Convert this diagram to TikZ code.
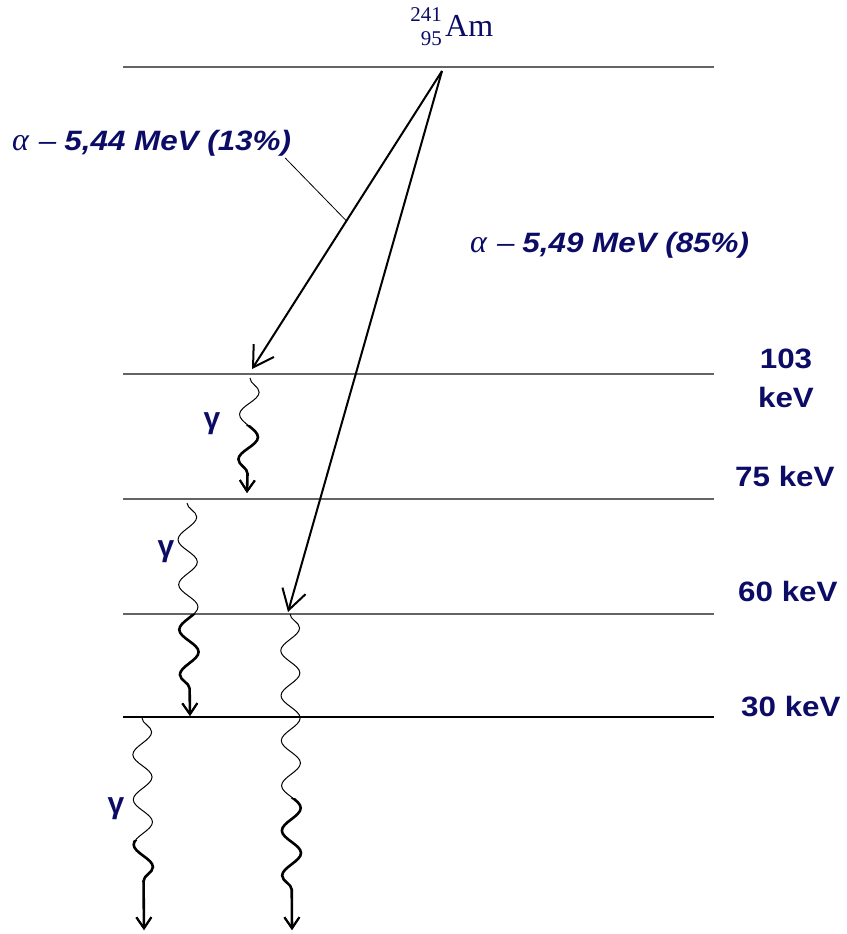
\documentclass[tikz,border=0pt]{standalone}
\usepackage{fontspec}
\setmainfont{Liberation Serif}
\newfontfamily\labfont[FakeStretch=1.12]{Liberation Sans}
\newfontfamily\gamfont{Liberation Sans}
\usetikzlibrary{arrows.meta,decorations.pathmorphing,calc}
\definecolor{navy}{RGB}{12,12,102}
\definecolor{levgray}{RGB}{100,100,100}

\tikzset{
  level/.style={draw=levgray, line width=1.2pt},
  lastlevel/.style={draw=black, line width=1.2pt},
  alphaarrow/.style={line width=2pt, -{Straight Barb[length=20pt,width=24pt,line width=2pt]}},
  wthin/.style={line width=1pt, decorate, -{Straight Barb[length=11pt,width=15pt,line width=2pt]},
    decoration={snake, segment length=45pt, amplitude=9.5pt}},
  wthick/.style={line width=2.6pt, decorate, -{Straight Barb[length=11pt,width=15pt,line width=2pt]},
    decoration={snake, segment length=45pt, amplitude=9.5pt}},
  energy/.style={font=\labfont\bfseries\fontsize{28}{30}\selectfont, text=navy, inner sep=0pt},
  alphalab/.style={font=\labfont\bfseries\itshape\fontsize{28}{30}\selectfont, text=navy, inner sep=0pt},
  gam/.style={font=\gamfont\bfseries\fontsize{30}{32}\selectfont, text=navy, inner sep=0pt},
  iso/.style={text=navy, inner sep=0pt},
  leader/.style={line width=0.8pt, draw=black}
}

\newcommand{\gwave}[4]{%
  \draw[wthin,decoration={post length=#4}] (#1) -- (#3);
  \begin{scope}
    \clip (0,#2) rectangle (846,934);
    \draw[wthick,decoration={post length=#4}] (#1) -- (#3);
  \end{scope}
}

\begin{document}
\begin{tikzpicture}[x=1pt,y=-1pt]
\useasboundingbox (0,0) rectangle (846,934);

% level lines
\coordinate (L0a) at (123,67);  \coordinate (L0b) at (714,67);
\coordinate (L1a) at (123,374); \coordinate (L1b) at (714,374);
\coordinate (L2a) at (123,499); \coordinate (L2b) at (714,499);
\coordinate (L3a) at (123,614); \coordinate (L3b) at (714,614);
\coordinate (L4a) at (123,717); \coordinate (L4b) at (714,717);
\draw[level] (L0a) -- (L0b);
\draw[level] (L1a) -- (L1b);
\draw[level] (L2a) -- (L2b);
\draw[level] (L3a) -- (L3b);
\draw[lastlevel] (L4a) -- (L4b);

% isotope label
\node[iso, anchor=base west, font=\fontsize{32}{34}\selectfont] (am) at (445,37) {Am};
\node[iso, anchor=base east, font=\fontsize{21}{22}\selectfont] (mass) at (442,22) {241};
\node[iso, anchor=base east, font=\fontsize{21}{22}\selectfont] (charge) at (442,46) {95};

% alpha arrows
\coordinate (src) at (442,71);
\coordinate (t103) at (252,369);
\coordinate (t60) at (288,612);
\draw[alphaarrow] (src) -- (t103);
\draw[alphaarrow] (src) -- (t60);

% alpha labels
\node[alphalab, anchor=base west] (a1) at (12,150)
  {{\mdseries\itshape\rmfamily\fontsize{32}{34}\selectfont α}\hspace{10pt}{\mdseries –}\hspace{8pt}5,44 MeV (13\%)};
\node[alphalab, anchor=base west] (a2) at (470,252)
  {{\mdseries\itshape\rmfamily\fontsize{32}{34}\selectfont α}\hspace{10pt}{\mdseries –}\hspace{8pt}5,49 MeV (85\%)};
\coordinate (lead) at ($(src)!0.503!(t103)$);
\draw[leader] (a1.south east) ++(-6,2) coordinate (leadstart) -- (lead);

% energy labels
\node[energy, anchor=base] (e103) at (786,368) {103};
\node[energy, anchor=base] (e103k) at (786,407) {keV};
\node[energy, anchor=base west] (e75) at (735,486) {75 keV};
\node[energy, anchor=base west] (e60) at (738,601) {60 keV};
\node[energy, anchor=base west] (e30) at (741,716) {30 keV};

% gamma labels
\node[gam] (g1) at (212,424) {γ};
\node[gam] (g2) at (166,552) {γ};
\node[gam] (g3) at (116,809) {γ};

% gamma waves
\coordinate (w1s) at (250,378); \coordinate (w1e) at (247,493);
\coordinate (w2s) at (187,503); \coordinate (w2e) at (190,716);
\coordinate (w3s) at (290,614); \coordinate (w3e) at (292,930);
\coordinate (w4s) at (142,718); \coordinate (w4e) at (144,930);
\gwave{w1s}{425}{w1e}{18pt}
\gwave{w2s}{614}{w2e}{18pt}
\gwave{w3s}{798}{w3e}{36pt}
\gwave{w4s}{840}{w4e}{32pt}
\end{tikzpicture}
\end{document}
